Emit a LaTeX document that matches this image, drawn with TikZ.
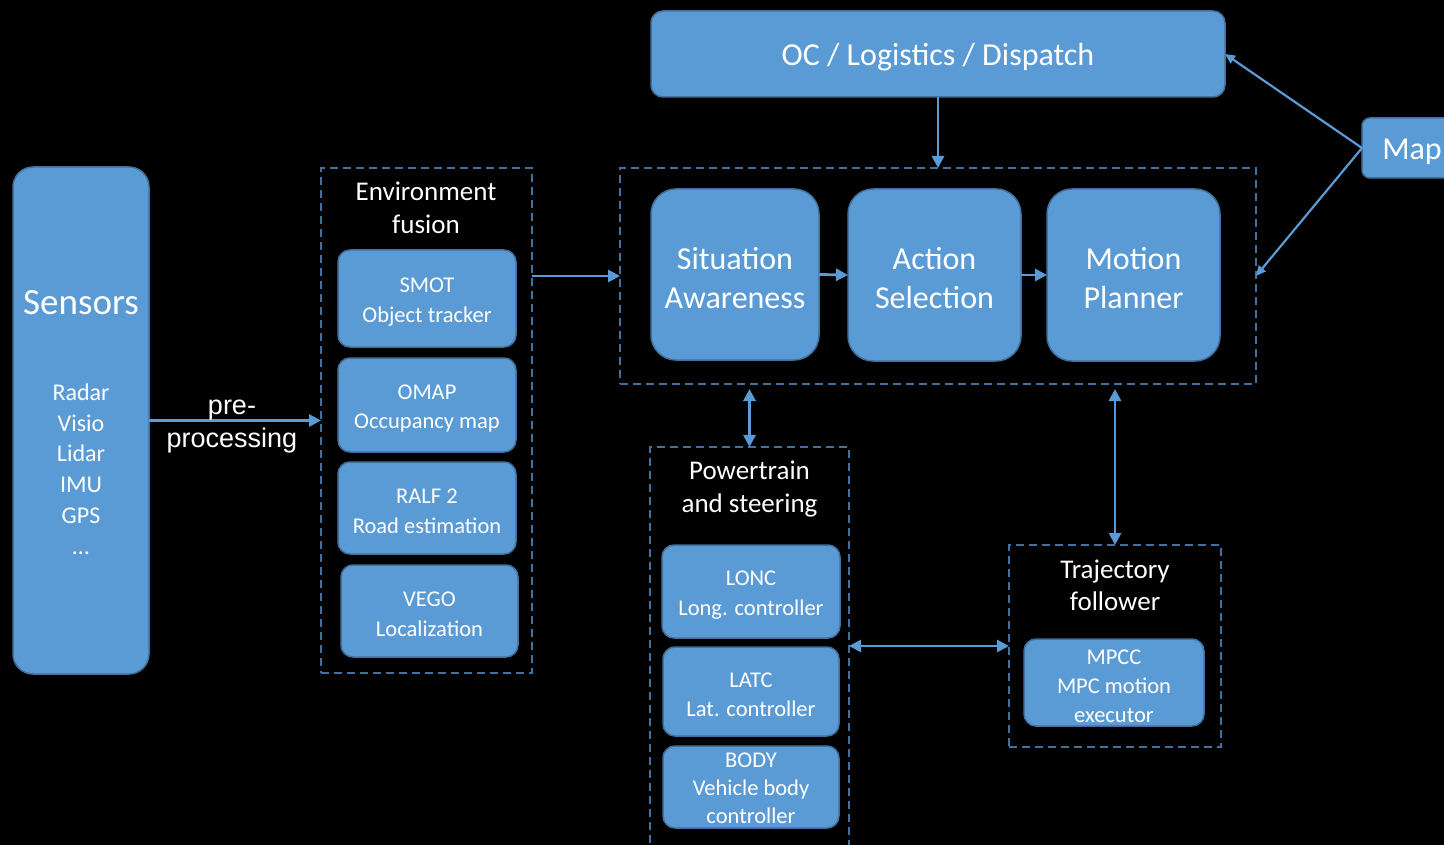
\documentclass[tikz,border=0pt]{standalone}
\usepackage{fontspec}
\setmainfont{Carlito}
\newfontfamily\helv{Liberation Sans}
\usetikzlibrary{arrows.meta}
\definecolor{boxfill}{HTML}{5B9BD5}
\definecolor{boxline}{HTML}{41719C}
\definecolor{arrowc}{HTML}{5B9BD5}
\begin{document}
\begin{tikzpicture}[x=1pt,y=-1pt,
  blk/.style={draw=boxline, line width=1.5pt, fill=boxfill, rounded corners=12pt, inner sep=0pt, outer sep=0pt},
  bt/.style={text=white, align=center, inner sep=0pt, yshift=-3.5pt},
  grp/.style={draw=boxline, line width=1.8pt, dash pattern=on 8pt off 5pt, inner sep=0pt, outer sep=0pt},
  ttl/.style={text=white, align=center, font=\fontsize{27}{33}\selectfont},
  small/.style={font=\fontsize{22.5}{29.5}\selectfont},
  big/.style={font=\fontsize{32}{39}\selectfont},
  conn/.style={draw=arrowc, line width=2.8pt, -{Triangle[length=12pt,width=12pt]}},
  dconn/.style={draw=arrowc, line width=2.8pt, {Triangle[length=12pt,width=12pt]}-{Triangle[length=12pt,width=12pt]}},
  thinconn/.style={draw=arrowc, line width=2.2pt, -{Triangle[length=10pt,width=9pt]}}]
\useasboundingbox (0,0) rectangle (1444,845);
\fill[black] (0,0) rectangle (1444,845);
\clip (0,0) rectangle (1444,845);

% Sensors
\node[blk, rounded corners=20pt, minimum width=136pt, minimum height=507pt] (sensors) at (81,420.5) {};
\node[text=white, font=\fontsize{37}{44}\selectfont] (sensorsT) at (81,303) {Sensors};
\node[text=white, align=center, font=\fontsize{24}{30.8}\selectfont] (sensorsL) at (81,469) {Radar\\Visio\\Lidar\\IMU\\GPS\\…};

% Environment fusion
\node[grp, minimum width=211pt, minimum height=505pt] (env) at (426.5,420.5) {};
\node[ttl] (envT) at (426,207.5) {Environment\\fusion};
\node[blk, minimum width=178pt, minimum height=97pt] (smot) at (427,298.5) {};
\node[bt, small] (smotT) at (smot) {SMOT\\Object tracker};
\node[blk, minimum width=178pt, minimum height=94pt] (omap) at (427,405) {};
\node[bt, small] (omapT) at (omap) {OMAP\\Occupancy map};
\node[blk, minimum width=178pt, minimum height=92pt] (ralf) at (427,508) {};
\node[bt, small] (ralfT) at (ralf) {RALF 2\\Road estimation};
\node[blk, minimum width=177pt, minimum height=92pt] (vego) at (429.5,611) {};
\node[bt, small] (vegoT) at (vego) {VEGO\\Localization};

% OC
\node[blk, minimum width=574pt, minimum height=86pt] (oc) at (938,54) {};
\node[bt, big] (ocT) at (oc) {OC / Logistics / Dispatch};

% Planning group
\node[grp, minimum width=636pt, minimum height=216pt] (top) at (938,276) {};
\node[blk, rounded corners=25pt, minimum width=168pt, minimum height=171pt] (sa) at (735,274.5) {};
\node[bt, big] (saT) at (sa) {Situation\\Awareness};
\node[blk, rounded corners=25pt, minimum width=173pt, minimum height=172pt] (as) at (934.5,275) {};
\node[bt, big] (asT) at (as) {Action\\Selection};
\node[blk, rounded corners=25pt, minimum width=173pt, minimum height=172pt] (mp) at (1133.5,275) {};
\node[bt, big] (mpT) at (mp) {Motion\\Planner};

% Map
\node[blk, rounded corners=8pt, minimum width=100pt, minimum height=60pt] (map) at (1412,148) {};
\node[bt, big] (mapT) at (map) {Map};

% Powertrain
\node[grp, minimum width=199pt, minimum height=423pt] (pt) at (749.5,658.5) {};
\node[ttl] (ptT) at (749.5,489.5) {Powertrain\\and steering};
\node[blk, minimum width=178pt, minimum height=93pt] (lonc) at (751,591.5) {};
\node[bt, small] (loncT) at (lonc) {LONC\\Long. controller};
\node[blk, minimum width=176pt, minimum height=89pt] (latc) at (751,691.5) {};
\node[bt, small] (latcT) at (latc) {LATC\\Lat. controller};
\node[blk, minimum width=176pt, minimum height=82pt] (body) at (751,787) {};
\node[bt, font=\fontsize{22.5}{28}\selectfont, yshift=2pt] (bodyT) at (body) {BODY\\Vehicle body\\controller};

% Trajectory follower
\node[grp, minimum width=212pt, minimum height=202pt] (traj) at (1115,646) {};
\node[ttl, font=\fontsize{27}{32}\selectfont] (trajT) at (1115,585) {Trajectory\\follower};
\node[blk, minimum width=180pt, minimum height=87pt] (mpcc) at (1114,682.5) {};
\node[bt, font=\fontsize{22.5}{29}\selectfont] (mpccT) at (mpcc) {MPCC\\MPC motion\\executor};

% Connectors
\draw[conn] (sensors.east) -- (env.west);
\node[text=white, align=center, font=\helv\fontsize{27}{33}\selectfont] (preT) at (232,427) {pre-\\processing};
\draw[conn] (env.east |- top.west) -- (top.west);
\draw[conn] (oc.south) -- (top.north);
\draw[conn] (sa.east) -- (as.west);
\draw[conn] (as.east) -- (mp.west);
\draw[thinconn] (map.west) -- (oc.east);
\draw[thinconn] (map.west) -- (top.east);
\draw[dconn, shorten <=5pt] (pt.north |- top.south) -- (pt.north);
\draw[dconn, shorten <=5pt] (traj.north |- top.south) -- (traj.north);
\draw[dconn] (pt.east |- traj.west) -- (traj.west);
\end{tikzpicture}
\end{document}
